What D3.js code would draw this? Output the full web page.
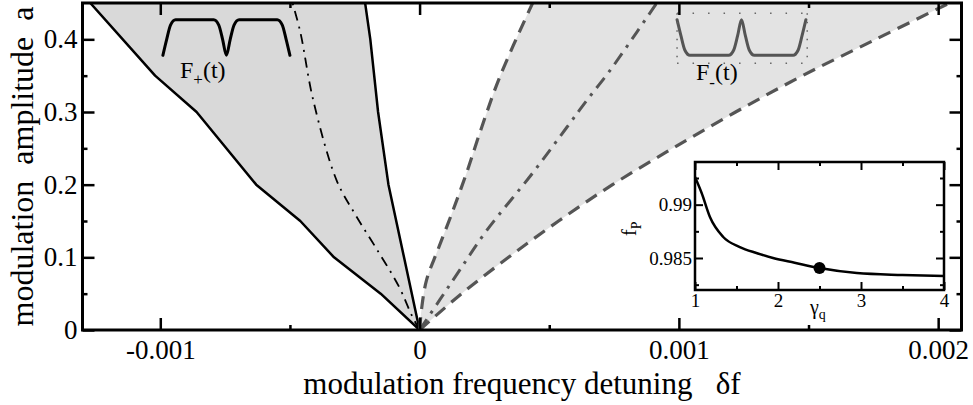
<!DOCTYPE html>
<html>
<head>
<meta charset="utf-8">
<script src="https://cdn.jsdelivr.net/npm/d3@7"></script>
<style>
  html, body { margin: 0; padding: 0; background: #fff; }
  svg { display: block; }
  svg text { font-family: "Liberation Serif", "Times New Roman", serif; white-space: pre; }
</style>
</head>
<body>
<svg id="chart" width="973" height="405"></svg>
<script>
// ---- Locking-region boundaries, points are [detuning δf, amplitude a] ----
// F+ region (dark shading): outer and inner solid boundaries
const plusOuter = [[0, 0], [-0.00015, 0.05], [-0.00033, 0.1], [-0.00046, 0.15], [-0.00063, 0.2],
                   [-0.00086, 0.3], [-0.00102, 0.35], [-0.00127, 0.45]];
const plusInner = [[0, 0], [-0.00006, 0.1], [-0.00012, 0.2], [-0.00016, 0.3], [-0.00019, 0.4], [-0.00021, 0.45]];
// F+ centre line (dash-dot)
const plusCentre = [[0, 0], [-0.00003, 0.02], [-0.00008, 0.06], [-0.00017, 0.114], [-0.00025, 0.16],
                    [-0.00032, 0.206], [-0.00041, 0.316], [-0.00046, 0.41], [-0.00049, 0.45]];
// F- region (light shading): dashed boundaries
const minusInner = [[0, 0], [0.000008, 0.03], [0.000027, 0.069], [0.00007, 0.11], [0.000124, 0.16],
                    [0.000181, 0.216], [0.000232, 0.271], [0.000309, 0.348], [0.000436, 0.45]];
const minusOuter = [[0, 0], [0.000162, 0.05], [0.000343, 0.1], [0.000536, 0.15], [0.000744, 0.2],
                    [0.000976, 0.25], [0.001219, 0.3], [0.001477, 0.35], [0.001759, 0.4], [0.002044, 0.45]];
// F- centre line (dash-dot)
const minusCentre = [[0, 0], [0.000077, 0.041], [0.000154, 0.082], [0.000259, 0.137], [0.000436, 0.216],
                     [0.000568, 0.279], [0.000645, 0.316], [0.000734, 0.357], [0.000838, 0.41], [0.000915, 0.45]];

// Main axes ticks
const xMajor = [-0.001, 0, 0.001, 0.002];
const xLabels = ["-0.001", "0", "0.001", "0.002"];
const xMinor = [-0.0005, 0.0005, 0.0015];
const yMajor = [0, 0.1, 0.2, 0.3, 0.4];
const yLabels = ["0", "0.1", "0.2", "0.3", "0.4"];
const yMinor = [0.05, 0.15, 0.25, 0.35];

// Pulse-shape icons: [t, level]
const pulsePlus = [[0, 0], [0.03, 0.45], [0.06, 0.85], [0.1, 1], [0.4, 1], [0.44, 0.85], [0.47, 0.45],
                   [0.5, 0], [0.53, 0.45], [0.56, 0.85], [0.6, 1], [0.9, 1], [0.94, 0.85], [0.97, 0.45], [1, 0]];
const pulseMinus = pulsePlus.map(([t, v]) => [t, 1 - v]);

// Inset: f_P versus γ_q
const gammaQ = [1, 1.08, 1.18, 1.34, 1.54, 1.74, 1.94, 2.2, 2.5, 2.95, 3.5, 4];
const fP = [0.99259, 0.99109, 0.98884, 0.98697, 0.98603, 0.98547, 0.9850, 0.98456, 0.98406, 0.98359, 0.98341, 0.98331];
const marked = [2.5, 0.98406];
const ixMajor = [1, 2, 3, 4], ixLabels = ["1", "2", "3", "4"], ixMinor = [1.5, 2.5, 3.5];
const iyMajor = [0.985, 0.99], iyLabels = ["0.985", "0.99"], iyMinor = [0.9825, 0.9875, 0.9925];

// ---- Drawing ----
const SERIF = '"Liberation Serif", "Times New Roman", serif';
const svg = d3.select("#chart");
const L = 82.5, R = 961.5, T = 3, B = 330;
const x = d3.scaleLinear().domain([-0.0013, 0.00209]).range([L, R]);
const y = d3.scaleLinear().domain([0, 0.45]).range([B, T]);

svg.append("defs").append("clipPath").attr("id", "plotClip")
  .append("rect").attr("x", L).attr("y", T).attr("width", R - L).attr("height", B - T);

const plot = svg.append("g").attr("clip-path", "url(#plotClip)");

const straight = d3.line().x(d => x(d[0])).y(d => y(d[1]));
const smooth = d3.line().x(d => x(d[0])).y(d => y(d[1])).curve(d3.curveCatmullRom.alpha(0.5));

function band(gen, a, b) {
  return gen(a) + gen(b.slice().reverse()).replace(/^M/, "L") + "Z";
}

plot.append("path").attr("d", band(straight, plusOuter, plusInner)).attr("fill", "#d9d9d9");
plot.append("path").attr("d", band(smooth, minusInner, minusOuter)).attr("fill", "#e3e3e3");

plot.append("path").attr("d", straight(plusOuter)).attr("fill", "none")
  .attr("stroke", "#000").attr("stroke-width", 2.5).attr("stroke-linejoin", "round");
plot.append("path").attr("d", straight(plusInner)).attr("fill", "none")
  .attr("stroke", "#000").attr("stroke-width", 2.5).attr("stroke-linejoin", "round");
plot.append("path").attr("d", smooth(plusCentre)).attr("fill", "none")
  .attr("stroke", "#000").attr("stroke-width", 1.8).attr("stroke-dasharray", "10,6,2,6");

const grey = "#555";
plot.append("path").attr("d", smooth(minusInner)).attr("fill", "none")
  .attr("stroke", grey).attr("stroke-width", 3.2).attr("stroke-dasharray", "13,8");
plot.append("path").attr("d", smooth(minusOuter)).attr("fill", "none")
  .attr("stroke", grey).attr("stroke-width", 3.2).attr("stroke-dasharray", "13,8");
plot.append("path").attr("d", smooth(minusCentre)).attr("fill", "none")
  .attr("stroke", grey).attr("stroke-width", 3).attr("stroke-dasharray", "13,7,3,7");

// Pulse icons placed in plot coordinates
function drawPulse(shape, x0, x1, a0, a1, colour) {
  const px = d3.scaleLinear().domain([0, 1]).range([x(x0), x(x1)]);
  const py = d3.scaleLinear().domain([0, 1]).range([y(a0), y(a1)]);
  svg.append("path")
    .attr("d", d3.line().x(d => px(d[0])).y(d => py(d[1])).curve(d3.curveMonotoneX)(shape))
    .attr("fill", "none").attr("stroke", colour).attr("stroke-width", 3).attr("stroke-linecap", "round");
}
drawPulse(pulsePlus, -0.00099, -0.0005, 0.378, 0.427, "#000");
drawPulse(pulseMinus, 0.000993, 0.00149, 0.378, 0.427, grey);

// dotted frame round the F- pulse
const bx0 = x(0.000993), bx1 = x(0.001495), by0 = y(0.436), by1 = y(0.367);
const dotted = svg.append("g").attr("stroke", "#666").attr("stroke-width", 1.5).attr("fill", "none");
dotted.append("line").attr("x1", bx0).attr("x2", bx1).attr("y1", by0).attr("y2", by0).attr("stroke-dasharray", "1.5,14");
dotted.append("line").attr("x1", bx0).attr("x2", bx1).attr("y1", by1).attr("y2", by1).attr("stroke-dasharray", "1.5,14");
dotted.append("line").attr("x1", bx0).attr("x2", bx0).attr("y1", by0).attr("y2", by1).attr("stroke-dasharray", "1.5,7");
dotted.append("line").attr("x1", bx1).attr("x2", bx1).attr("y1", by0).attr("y2", by1).attr("stroke-dasharray", "1.5,7");

function pulseLabel(px, py, sub, subShift) {
  const t = svg.append("text").attr("x", px).attr("y", py).attr("font-size", 24).attr("fill", "#000");
  t.append("tspan").text("F");
  t.append("tspan").attr("font-size", 17).attr("dy", subShift).text(sub);
  t.append("tspan").attr("dy", -subShift).text("(t)");
}
pulseLabel(180, 78, "+", 7);
pulseLabel(696, 80, "-", 8);

// ---- Main axes ----
function styleAxis(g, size, width) {
  g.attr("font-family", SERIF).attr("font-size", size);
  g.select(".domain").remove();
  g.selectAll(".tick line").attr("stroke", "#000").attr("stroke-width", width);
  g.selectAll(".tick text").attr("fill", "#000").attr("font-family", SERIF).attr("font-size", size);
}
const addAxis = (parent, axis, tx, ty, size, width) =>
  parent.append("g").attr("transform", `translate(${tx},${ty})`).call(axis).call(g => styleAxis(g, size, width));

addAxis(svg, d3.axisBottom(x).tickValues(xMajor).tickSize(-12).tickSizeOuter(0).tickPadding(10)
  .tickFormat((d, i) => xLabels[i]), 0, B, 27, 2.5);
addAxis(svg, d3.axisBottom(x).tickValues(xMinor).tickSize(-5).tickSizeOuter(0).tickFormat(""), 0, B, 27, 2.5);
addAxis(svg, d3.axisTop(x).tickValues(xMajor).tickSize(-12).tickSizeOuter(0).tickFormat(""), 0, T, 27, 2.5);
addAxis(svg, d3.axisTop(x).tickValues(xMinor).tickSize(-5).tickSizeOuter(0).tickFormat(""), 0, T, 27, 2.5);
addAxis(svg, d3.axisLeft(y).tickValues(yMajor).tickSize(-12).tickSizeOuter(0).tickPadding(5)
  .tickFormat((d, i) => yLabels[i]), L, 0, 27, 2.5);
addAxis(svg, d3.axisLeft(y).tickValues(yMinor).tickSize(-5).tickSizeOuter(0).tickFormat(""), L, 0, 27, 2.5);
addAxis(svg, d3.axisRight(y).tickValues(yMajor).tickSize(-12).tickSizeOuter(0).tickFormat(""), R, 0, 27, 2.5);
addAxis(svg, d3.axisRight(y).tickValues(yMinor).tickSize(-5).tickSizeOuter(0).tickFormat(""), R, 0, 27, 2.5);

svg.append("rect").attr("x", L).attr("y", T).attr("width", R - L).attr("height", B - T)
  .attr("fill", "none").attr("stroke", "#000").attr("stroke-width", 3);

svg.append("text").attr("x", (L + R) / 2).attr("y", 394).attr("text-anchor", "middle")
  .attr("font-size", 31).attr("fill", "#000").text("modulation frequency detuning   δf");
svg.append("text").attr("transform", `translate(33,${(T + B) / 2}) rotate(-90)`).attr("text-anchor", "middle")
  .attr("font-size", 32).attr("fill", "#000").text("modulation  amplitude  a");

// ---- Inset ----
const iL = 695, iR = 944, iT = 162, iB = 290;
const ix = d3.scaleLinear().domain([1, 4]).range([iL, iR]);
const iy = d3.scaleLinear().domain([0.982, 0.994]).range([iB, iT]);
const inset = svg.append("g");
inset.append("rect").attr("x", iL).attr("y", iT).attr("width", iR - iL).attr("height", iB - iT)
  .attr("fill", "#fff");

addAxis(inset, d3.axisBottom(ix).tickValues(ixMajor).tickSize(-8).tickSizeOuter(0).tickPadding(4)
  .tickFormat((d, i) => ixLabels[i]), 0, iB, 19, 2);
addAxis(inset, d3.axisBottom(ix).tickValues(ixMinor).tickSize(-4).tickSizeOuter(0).tickFormat(""), 0, iB, 19, 2);
addAxis(inset, d3.axisTop(ix).tickValues(ixMajor).tickSize(-8).tickSizeOuter(0).tickFormat(""), 0, iT, 19, 2);
addAxis(inset, d3.axisTop(ix).tickValues(ixMinor).tickSize(-4).tickSizeOuter(0).tickFormat(""), 0, iT, 19, 2);
addAxis(inset, d3.axisLeft(iy).tickValues(iyMajor).tickSize(-8).tickSizeOuter(0).tickPadding(3)
  .tickFormat((d, i) => iyLabels[i]), iL, 0, 19, 2);
addAxis(inset, d3.axisLeft(iy).tickValues(iyMinor).tickSize(-4).tickSizeOuter(0).tickFormat(""), iL, 0, 19, 2);
addAxis(inset, d3.axisRight(iy).tickValues(iyMajor).tickSize(-8).tickSizeOuter(0).tickFormat(""), iR, 0, 19, 2);
addAxis(inset, d3.axisRight(iy).tickValues(iyMinor).tickSize(-4).tickSizeOuter(0).tickFormat(""), iR, 0, 19, 2);

const fpPoints = gammaQ.map((g, i) => [g, fP[i]]);
inset.append("path")
  .attr("d", d3.line().x(d => ix(d[0])).y(d => iy(d[1])).curve(d3.curveMonotoneX)(fpPoints))
  .attr("fill", "none").attr("stroke", "#000").attr("stroke-width", 2.5);
inset.append("circle").attr("cx", ix(marked[0])).attr("cy", iy(marked[1])).attr("r", 6).attr("fill", "#000");

inset.append("rect").attr("x", iL).attr("y", iT).attr("width", iR - iL).attr("height", iB - iT)
  .attr("fill", "none").attr("stroke", "#000").attr("stroke-width", 2.5);

const gl = inset.append("text").attr("x", 810).attr("y", 314).attr("font-size", 20).attr("fill", "#000");
gl.append("tspan").text("γ");
gl.append("tspan").attr("font-size", 14).attr("dy", 5).text("q");

const fl = inset.append("text").attr("transform", "translate(636,236) rotate(-90)")
  .attr("font-size", 20).attr("fill", "#000");
fl.append("tspan").text("f");
fl.append("tspan").attr("font-size", 14).attr("dy", 5).text("P");
</script>
</body>
</html>
